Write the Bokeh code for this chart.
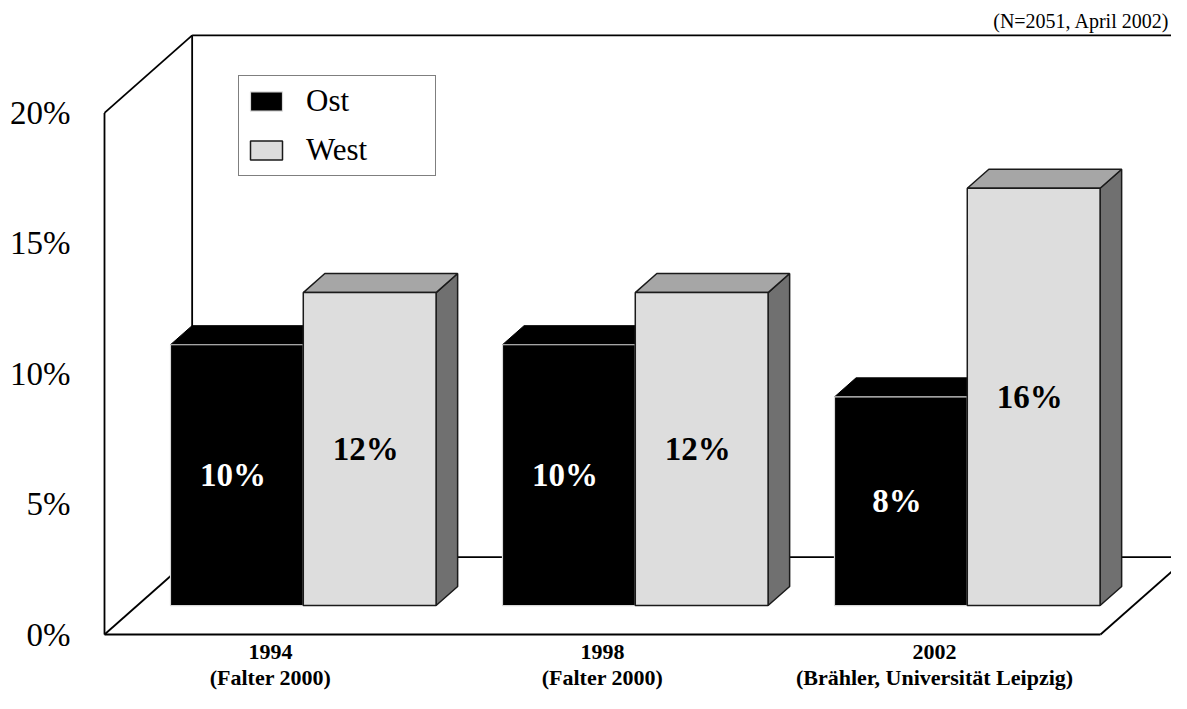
from bokeh.plotting import figure
from bokeh.models import Range1d, FixedTicker, PrintfTickFormatter, Legend, LegendItem
from bokeh.core.properties import value
from bokeh.embed import file_html
from bokeh.resources import INLINE

# ---- data ----
years = ["1994", "1998", "2002"]
sources = ["(Falter 2000)", "(Falter 2000)", "(Brähler, Universität Leipzig)"]
ost = [10, 10, 8]
west = [12, 12, 16]
y_ticks = [0, 5, 10, 15, 20]
y_max_wall = 20
note = "(N=2051, April 2002)"

FONT = "'Liberation Serif'"

# ---- 3D geometry (in data units) ----
DX, DY = 0.264, 2.97          # full depth offset of the box
F1, F2 = 0.374, 0.62          # front/back depth fraction of bars
BW = 0.4                      # bar width in category units
n = len(years)

W, H = 1171, 693
LEFT = 100                    # frame left (px)
X0 = 104                      # canvas x of category axis start
Y0 = 634                      # canvas y of value 0
PXX, PXY = 332.0, 26.08
p = figure(width=W, height=H, output_backend="svg", toolbar_location=None,
           x_axis_location=None,
           x_range=Range1d(-(X0 - LEFT)/PXX, (W - X0)/PXX),
           y_range=Range1d(-(H - Y0)/PXY, Y0/PXY),
           min_border_left=LEFT, min_border_right=0, min_border_top=0, min_border_bottom=0)
p.outline_line_color = None
p.xgrid.visible = False
p.ygrid.visible = False
p.background_fill_color = "white"
p.border_fill_color = "white"

# y axis
ya = p.yaxis[0]
ya.ticker = FixedTicker(ticks=y_ticks)
ya.formatter = PrintfTickFormatter(format="%d%%")
ya.axis_line_color = None
ya.major_tick_line_color = None
ya.minor_tick_line_color = None
ya.major_label_standoff = 24
ya.major_label_text_font = FONT
ya.major_label_text_font_size = "33px"
ya.major_label_text_color = "black"

# ---- walls / floor ----
wall_kw = dict(line_color="black", line_width=1.8)
X3 = float(n)
xe = (W - X0)/PXX
p.multi_line(
    xs=[[0, 0], [0, DX], [0, DX], [DX, DX], [DX, xe], [DX, xe], [0, X3], [X3, X3 + DX]],
    ys=[[0, y_max_wall], [y_max_wall, y_max_wall + DY], [0, DY], [DY, y_max_wall + DY],
        [y_max_wall + DY, y_max_wall + DY], [DY, DY], [0, 0], [0, DY]],
    **wall_kw)

# ---- bars ----
sx1, sy1 = F1*DX, F1*DY
bdx, bdy = (F2 - F1)*DX, (F2 - F1)*DY

def faces(x0, val):
    x1 = x0 + BW
    base = sy1
    top = sy1 + val
    front = ([x0, x1, x1, x0], [base, base, top, top])
    topf = ([x0, x1, x1 + bdx, x0 + bdx], [top, top, top + bdy, top + bdy])
    side = ([x1, x1 + bdx, x1 + bdx, x1], [base, base + bdy, top + bdy, top])
    return front, topf, side

ost_front, ost_top, ost_side = [], [], []
west_front, west_top, west_side = [], [], []
ost_lx, ost_ly, west_lx, west_ly = [], [], [], []
for i in range(n):
    c = i + 0.5 + sx1
    f, t, s = faces(c - BW, ost[i])
    ost_front.append(f); ost_top.append(t); ost_side.append(s)
    ost_lx.append(c - BW/2); ost_ly.append(sy1 + ost[i]/2)
    f, t, s = faces(c, west[i])
    west_front.append(f); west_top.append(t); west_side.append(s)
    west_lx.append(c + BW/2); west_ly.append(sy1 + west[i]/2)

def P(lst, **kw):
    return p.patches(xs=[a for a, b in lst], ys=[b for a, b in lst], **kw)

P(ost_side, fill_color="black", line_color="black", line_width=1)
P(ost_top, fill_color="black", line_color="black", line_width=1)
r_ost = P(ost_front, fill_color="black", line_color="#d8d8d8", line_width=1.2)
P(west_side, fill_color="#707070", line_color="#1a1a1a", line_width=1.5)
P(west_top, fill_color="#a6a6a6", line_color="#1a1a1a", line_width=1.5)
r_west = P(west_front, fill_color="#dddddd", line_color="#1a1a1a", line_width=1.5)

p.text(x=ost_lx, y=ost_ly, text=[f"{v}%" for v in ost], text_align="center",
       text_baseline="middle", text_color="white", text_font=value(FONT),
       text_font_style="bold", text_font_size="33px", x_offset=-4)
p.text(x=west_lx, y=west_ly, text=[f"{v}%" for v in west], text_align="center",
       text_baseline="middle", text_color="black", text_font=value(FONT),
       text_font_style="bold", text_font_size="33px", x_offset=-4)

# category labels below the floor (centred on the front-plane categories)
cat_x = [i + 0.5 for i in range(n)]
lab_kw = dict(text_align="center", text_baseline="middle", text_color="black",
              text_font=value(FONT), text_font_style="bold", text_font_size="22px")
p.text(x=cat_x, y=[-(651 - Y0)/PXY]*n, text=years, **lab_kw)
p.text(x=cat_x, y=[-(677 - Y0)/PXY]*n, text=sources, **lab_kw)

# note at top right
p.text(x=[(1169 - X0)/PXX], y=[(Y0 - 20)/PXY], text=[note], text_align="right",
       text_baseline="middle", text_color="black", text_font=value(FONT),
       text_font_size="20px")

legend = Legend(items=[LegendItem(label="Ost", renderers=[r_ost]),
                       LegendItem(label="West", renderers=[r_west])],
                location=(238 - LEFT, H - 176), orientation="vertical",
                glyph_width=40, glyph_height=24, label_height=24, label_width=122,
                label_standoff=20, padding=7, spacing=13, margin=0,
                border_line_color="black", border_line_width=1.5,
                background_fill_color="white", background_fill_alpha=1.0,
                label_text_font=FONT, label_text_font_size="31px",
                label_text_color="black")
p.add_layout(legend, "center")

open("out.html", "w").write(file_html(p, INLINE))
